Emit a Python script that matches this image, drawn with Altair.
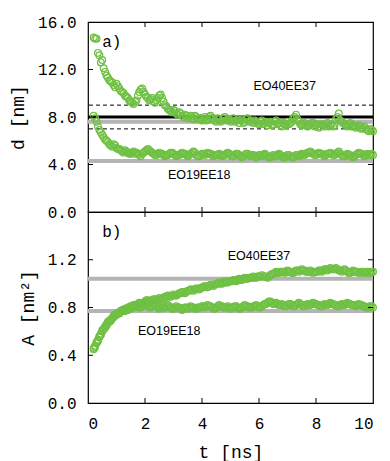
import altair as alt
import pandas as pd

# panel a) : distance d [nm], samples at t = 0.2, 0.3, ... 10.0
d_eo40 = [14.7, 14.6, 13.2, 12.8, 11.8, 11.3, 11.0, 10.7, 10.8, 10.4,
          10.1, 9.8, 9.6, 9.3, 9.1, 9.4, 10.1, 10.4, 9.9, 9.6,
          9.5, 9.3, 9.4, 9.8, 9.6, 9.0, 8.7, 8.5, 8.6, 8.3,
          8.4, 8.1, 8.2, 7.9, 8.1, 7.8, 8.0, 7.9, 7.7, 8.0,
          7.8, 8.1, 7.9, 7.6, 7.8, 7.7, 8.0, 7.8, 7.6, 7.9,
          7.7, 7.5, 7.8, 7.6, 7.9, 7.7, 7.5, 7.6, 7.4, 7.7,
          7.5, 7.3, 7.6, 7.4, 7.7, 7.5, 7.2, 7.4, 7.6, 7.5,
          7.9, 8.2, 7.6, 7.3, 7.5, 7.2, 7.4, 7.5, 7.3, 7.1,
          7.4, 7.2, 7.5, 7.3, 7.2, 7.8, 8.3, 7.6, 7.4, 7.2,
          7.5, 7.3, 7.1, 7.3, 7.0, 7.2, 6.9, 7.0, 6.8]
d_eo19 = [8.1, 7.6, 6.9, 6.5, 6.1, 5.9, 5.6, 5.7, 5.4, 5.3,
          5.1, 5.2, 5.0, 4.9, 5.1, 5.0, 4.8, 4.9, 5.1, 5.3,
          5.1, 4.9, 4.8, 5.0, 4.9, 4.7, 4.8, 5.0, 4.9, 4.7,
          4.8, 5.0, 4.9, 4.7, 4.9, 5.1, 4.8, 4.7, 4.9, 4.8,
          5.0, 4.9, 4.7, 4.8, 4.9, 4.7, 4.8, 5.0, 4.8, 4.7,
          4.9, 4.8, 4.6, 4.8, 4.9, 4.7, 4.8, 4.6, 4.8, 4.7,
          4.9, 4.7, 4.6, 4.8, 4.7, 4.9, 4.7, 4.6, 4.8, 4.7,
          4.6, 4.8, 4.7, 4.9, 4.8, 5.0, 5.1, 4.9, 4.8, 5.0,
          4.9, 4.7, 4.9, 5.0, 4.8, 4.9, 5.1, 4.8, 4.7, 4.9,
          4.8, 4.6, 4.8, 5.0, 4.9, 4.7, 4.9, 4.8, 4.8]
# intermediate samples at t = 0.25, 0.35, ... 9.95
d_eo40_h = [14.6, 13.4, 12.6, 12.1, 11.5, 11.1, 10.9, 10.5, 10.6, 10.2,
            10.0, 9.7, 9.4, 9.2, 9.3, 9.8, 10.3, 10.1, 9.7, 9.4,
            9.6, 9.2, 9.6, 9.9, 9.3, 8.9, 8.6, 8.4, 8.5, 8.2,
            8.3, 8.0, 8.1, 8.0, 7.9, 8.1, 7.8, 7.9, 7.8, 7.7,
            8.0, 7.8, 7.7, 7.9, 7.6, 7.9, 7.7, 7.8, 7.7, 7.6,
            7.8, 7.7, 7.5, 7.8, 7.6, 7.6, 7.7, 7.5, 7.6, 7.4,
            7.6, 7.5, 7.3, 7.6, 7.4, 7.3, 7.5, 7.3, 7.4, 7.6,
            8.0, 7.8, 7.4, 7.4, 7.3, 7.3, 7.5, 7.2, 7.4, 7.2,
            7.3, 7.4, 7.2, 7.4, 7.3, 8.0, 7.7, 7.5, 7.3, 7.4,
            7.2, 7.2, 7.2, 7.1, 7.1, 7.0, 6.8, 6.9]
d_eo19_h = [7.9, 7.2, 6.7, 6.3, 6.0, 5.7, 5.5, 5.6, 5.3, 5.2,
            5.0, 5.1, 4.9, 5.0, 4.9, 4.9, 4.7, 5.0, 5.2, 5.2,
            5.0, 4.8, 4.9, 4.9, 4.8, 4.8, 4.9, 5.0, 4.8, 4.8,
            4.9, 4.9, 4.8, 4.8, 5.0, 5.0, 4.7, 4.8, 4.9, 4.9,
            4.9, 4.8, 4.8, 4.8, 4.8, 4.8, 4.9, 4.9, 4.7, 4.8,
            4.9, 4.7, 4.7, 4.9, 4.8, 4.8, 4.7, 4.7, 4.8, 4.8,
            4.8, 4.6, 4.7, 4.7, 4.8, 4.8, 4.6, 4.7, 4.8, 4.6,
            4.7, 4.8, 4.8, 4.8, 4.9, 5.0, 5.0, 4.8, 4.9, 4.9,
            4.8, 4.8, 4.9, 4.9, 4.8, 5.0, 4.9, 4.7, 4.8, 4.8,
            4.7, 4.7, 4.9, 4.9, 4.8, 4.8, 4.8, 4.9]

# panel b) : area per molecule A [nm^2]
a_eo40 = [0.46, 0.50, 0.56, 0.60, 0.64, 0.67, 0.70, 0.72, 0.74, 0.76,
          0.77, 0.79, 0.78, 0.81, 0.82, 0.81, 0.84, 0.83, 0.85, 0.86,
          0.85, 0.87, 0.86, 0.88, 0.87, 0.89, 0.90, 0.89, 0.91, 0.90,
          0.92, 0.93, 0.92, 0.94, 0.95, 0.94, 0.96, 0.95, 0.97, 0.98,
          0.97, 0.99, 0.98, 1.00, 1.01, 1.00, 1.02, 1.01, 1.02, 1.03,
          1.02, 1.04, 1.03, 1.05, 1.04, 1.05, 1.06, 1.05, 1.06, 1.07,
          1.06, 1.05, 1.07, 1.08, 1.10, 1.09, 1.10, 1.09, 1.11, 1.10,
          1.09, 1.11, 1.10, 1.12, 1.11, 1.10, 1.11, 1.09, 1.10, 1.11,
          1.10, 1.12, 1.11, 1.13, 1.12, 1.13, 1.11, 1.10, 1.12, 1.10,
          1.09, 1.11, 1.10, 1.09, 1.10, 1.09, 1.10, 1.09, 1.10]
a_eo19 = [0.45, 0.51, 0.55, 0.61, 0.63, 0.68, 0.69, 0.73, 0.75, 0.75,
          0.78, 0.77, 0.80, 0.79, 0.80, 0.82, 0.80, 0.81, 0.83, 0.81,
          0.80, 0.82, 0.81, 0.79, 0.81, 0.80, 0.82, 0.80, 0.79, 0.81,
          0.80, 0.78, 0.80, 0.79, 0.81, 0.80, 0.79, 0.80, 0.81, 0.80,
          0.82, 0.81, 0.79, 0.80, 0.82, 0.81, 0.80, 0.81, 0.79, 0.80,
          0.81, 0.79, 0.80, 0.82, 0.81, 0.80, 0.81, 0.82, 0.80, 0.81,
          0.83, 0.84, 0.85, 0.83, 0.84, 0.82, 0.83, 0.81, 0.82, 0.83,
          0.81, 0.82, 0.84, 0.82, 0.81, 0.83, 0.82, 0.84, 0.83, 0.82,
          0.81, 0.83, 0.82, 0.84, 0.83, 0.82, 0.81, 0.83, 0.82, 0.84,
          0.83, 0.82, 0.81, 0.83, 0.82, 0.81, 0.80, 0.81, 0.80]
a_eo40_h = [0.48, 0.53, 0.58, 0.62, 0.66, 0.68, 0.71, 0.73, 0.75, 0.77,
            0.78, 0.78, 0.80, 0.81, 0.82, 0.83, 0.83, 0.84, 0.86, 0.85,
            0.86, 0.87, 0.87, 0.87, 0.88, 0.89, 0.89, 0.90, 0.90, 0.91,
            0.92, 0.93, 0.93, 0.94, 0.95, 0.95, 0.96, 0.96, 0.97, 0.97,
            0.98, 0.99, 0.99, 1.00, 1.00, 1.01, 1.01, 1.02, 1.02, 1.03,
            1.03, 1.03, 1.04, 1.04, 1.05, 1.05, 1.05, 1.06, 1.06, 1.06,
            1.06, 1.06, 1.08, 1.09, 1.09, 1.10, 1.10, 1.10, 1.10, 1.09,
            1.10, 1.11, 1.11, 1.11, 1.10, 1.10, 1.10, 1.10, 1.10, 1.11,
            1.11, 1.12, 1.12, 1.12, 1.12, 1.12, 1.11, 1.11, 1.11, 1.09,
            1.10, 1.10, 1.10, 1.09, 1.10, 1.09, 1.09, 1.10]
a_eo19_h = [0.47, 0.52, 0.57, 0.62, 0.65, 0.69, 0.71, 0.74, 0.75, 0.77,
            0.77, 0.79, 0.79, 0.80, 0.81, 0.81, 0.80, 0.82, 0.82, 0.80,
            0.81, 0.82, 0.80, 0.80, 0.80, 0.81, 0.81, 0.79, 0.80, 0.80,
            0.79, 0.79, 0.80, 0.80, 0.80, 0.79, 0.80, 0.80, 0.81, 0.81,
            0.81, 0.80, 0.79, 0.81, 0.81, 0.80, 0.80, 0.80, 0.80, 0.81,
            0.80, 0.79, 0.81, 0.81, 0.80, 0.80, 0.81, 0.81, 0.80, 0.82,
            0.83, 0.85, 0.84, 0.83, 0.83, 0.82, 0.82, 0.81, 0.83, 0.82,
            0.81, 0.83, 0.83, 0.81, 0.82, 0.82, 0.83, 0.83, 0.82, 0.81,
            0.82, 0.82, 0.83, 0.83, 0.82, 0.81, 0.82, 0.82, 0.83, 0.83,
            0.82, 0.82, 0.82, 0.82, 0.81, 0.80, 0.80, 0.81]

# sampling grids (ns)
t = [round(0.2 + 0.1 * i, 2) for i in range(len(d_eo40))]
t_h = [round(0.25 + 0.1 * i, 2) for i in range(len(d_eo40_h))]

# reference lines
a_black = [8.0]
a_gray = [7.6, 4.3]
a_dash = [9.0, 7.0]
b_gray = [1.04, 0.77]

# labels
a_lab_t = [6.9, 3.9]
a_lab_v = [10.6, 3.1]
b_lab_t = [6.0, 2.85]
b_lab_v = [1.23, 0.60]
lab_txt = ["EO40EE37", "EO19EE18"]

a_yticks = [0, 4, 8, 12, 16]
b_yticks = [0, 0.4, 0.8, 1.2]
x_ticks = [0, 2, 4, 6, 8, 10]

GREEN = "#6fc043"
GRAY = "#b4b4b4"
MONO = "Liberation Mono"
SANS = "Liberation Sans"
W, HA, HB = 285, 190, 191


def panel(s1, s2, s1h, s2h, ydom, yvals, ytitle, tag, tag_v,
          blacks, grays, dashes, lab_t, lab_v, H, show_x):
    xs = alt.Scale(domain=[0, 10], nice=False, zero=False)
    ys = alt.Scale(domain=ydom, nice=False, zero=False)
    if show_x:
        xax = alt.Axis(values=x_ticks, format="d", title="t [ns]", ticks=False,
                       tickSize=0, domain=False, grid=False, labelPadding=12,
                       titlePadding=12)
    else:
        xax = None
    yax = alt.Axis(values=yvals, format=".1f", title=ytitle, ticks=False,
                   tickSize=0, domain=False, grid=False, labelPadding=12,
                   titlePadding=10)

    def X():
        return alt.X("t:Q", scale=xs, axis=xax)

    def Y():
        return alt.Y("v:Q", scale=ys, axis=yax)

    pts = pd.DataFrame({"t": t + t_h + t + t_h, "v": s1 + s1h + s2 + s2h})
    layers = []
    if grays:
        layers.append(alt.Chart(pd.DataFrame({"v": grays})).mark_rule(
            color=GRAY, strokeWidth=4).encode(y=Y()))
    if blacks:
        layers.append(alt.Chart(pd.DataFrame({"v": blacks})).mark_rule(
            color="black", strokeWidth=3).encode(y=Y()))
    if dashes:
        layers.append(alt.Chart(pd.DataFrame({"v": dashes})).mark_rule(
            color="black", strokeWidth=1, strokeDash=[4, 3]).encode(y=Y()))
    layers.append(alt.Chart(pts).mark_point(
        shape="circle", filled=False, size=46, strokeWidth=1.2,
        color=GREEN, opacity=1).encode(x=X(), y=Y()))
    layers.append(alt.Chart(pd.DataFrame({"t": lab_t, "v": lab_v, "s": lab_txt})).mark_text(
        font=SANS, fontSize=12.5, color="black", align="center", baseline="middle"
    ).encode(x=X(), y=Y(), text="s:N"))
    layers.append(alt.Chart(pd.DataFrame({"t": [0.5], "v": [tag_v], "s": [tag]})).mark_text(
        font=MONO, fontSize=16, color="black", align="left", baseline="middle"
    ).encode(x=X(), y=Y(), text="s:N"))
    # inward tick marks
    inner_y = [v for v in yvals if v not in (ydom[0], ydom[1])]
    tdy = pd.DataFrame({"v": inner_y})
    layers.append(alt.Chart(tdy).mark_rule(color="black", strokeWidth=1).encode(
        y=Y(), x=alt.value(0), x2=alt.value(5)))
    layers.append(alt.Chart(tdy).mark_rule(color="black", strokeWidth=1).encode(
        y=Y(), x=alt.value(W), x2=alt.value(W - 5)))
    tdx = pd.DataFrame({"t": [2, 4, 6, 8]})
    layers.append(alt.Chart(tdx).mark_rule(color="black", strokeWidth=1).encode(
        x=X(), y=alt.value(H), y2=alt.value(H - 5)))
    layers.append(alt.Chart(tdx).mark_rule(color="black", strokeWidth=1).encode(
        x=X(), y=alt.value(0), y2=alt.value(5)))
    return alt.layer(*layers).properties(width=W, height=H)


top = panel(d_eo40, d_eo19, d_eo40_h, d_eo19_h, [0, 16], a_yticks, "d [nm]", "a)", 14.3,
            a_black, a_gray, a_dash, a_lab_t, a_lab_v, HA, False)
bot = panel(a_eo40, a_eo19, a_eo40_h, a_eo19_h, [0, 1.6], b_yticks, "A [nm²]", "b)", 1.43,
            [], b_gray, [], b_lab_t, b_lab_v, HB, True)

chart = alt.vconcat(top, bot, spacing=0, bounds="flush").properties(
    padding={"left": 8, "top": 13, "right": 5, "bottom": 5},
    background="white"
).configure_view(
    stroke="black", strokeWidth=1.2
).configure_axis(
    labelFont=MONO, labelFontSize=16, labelColor="black",
    titleFont=MONO, titleFontSize=18, titleFontWeight="normal", titleColor="black"
)

chart.save("out.html", embed_options={"renderer": "svg", "actions": False})
